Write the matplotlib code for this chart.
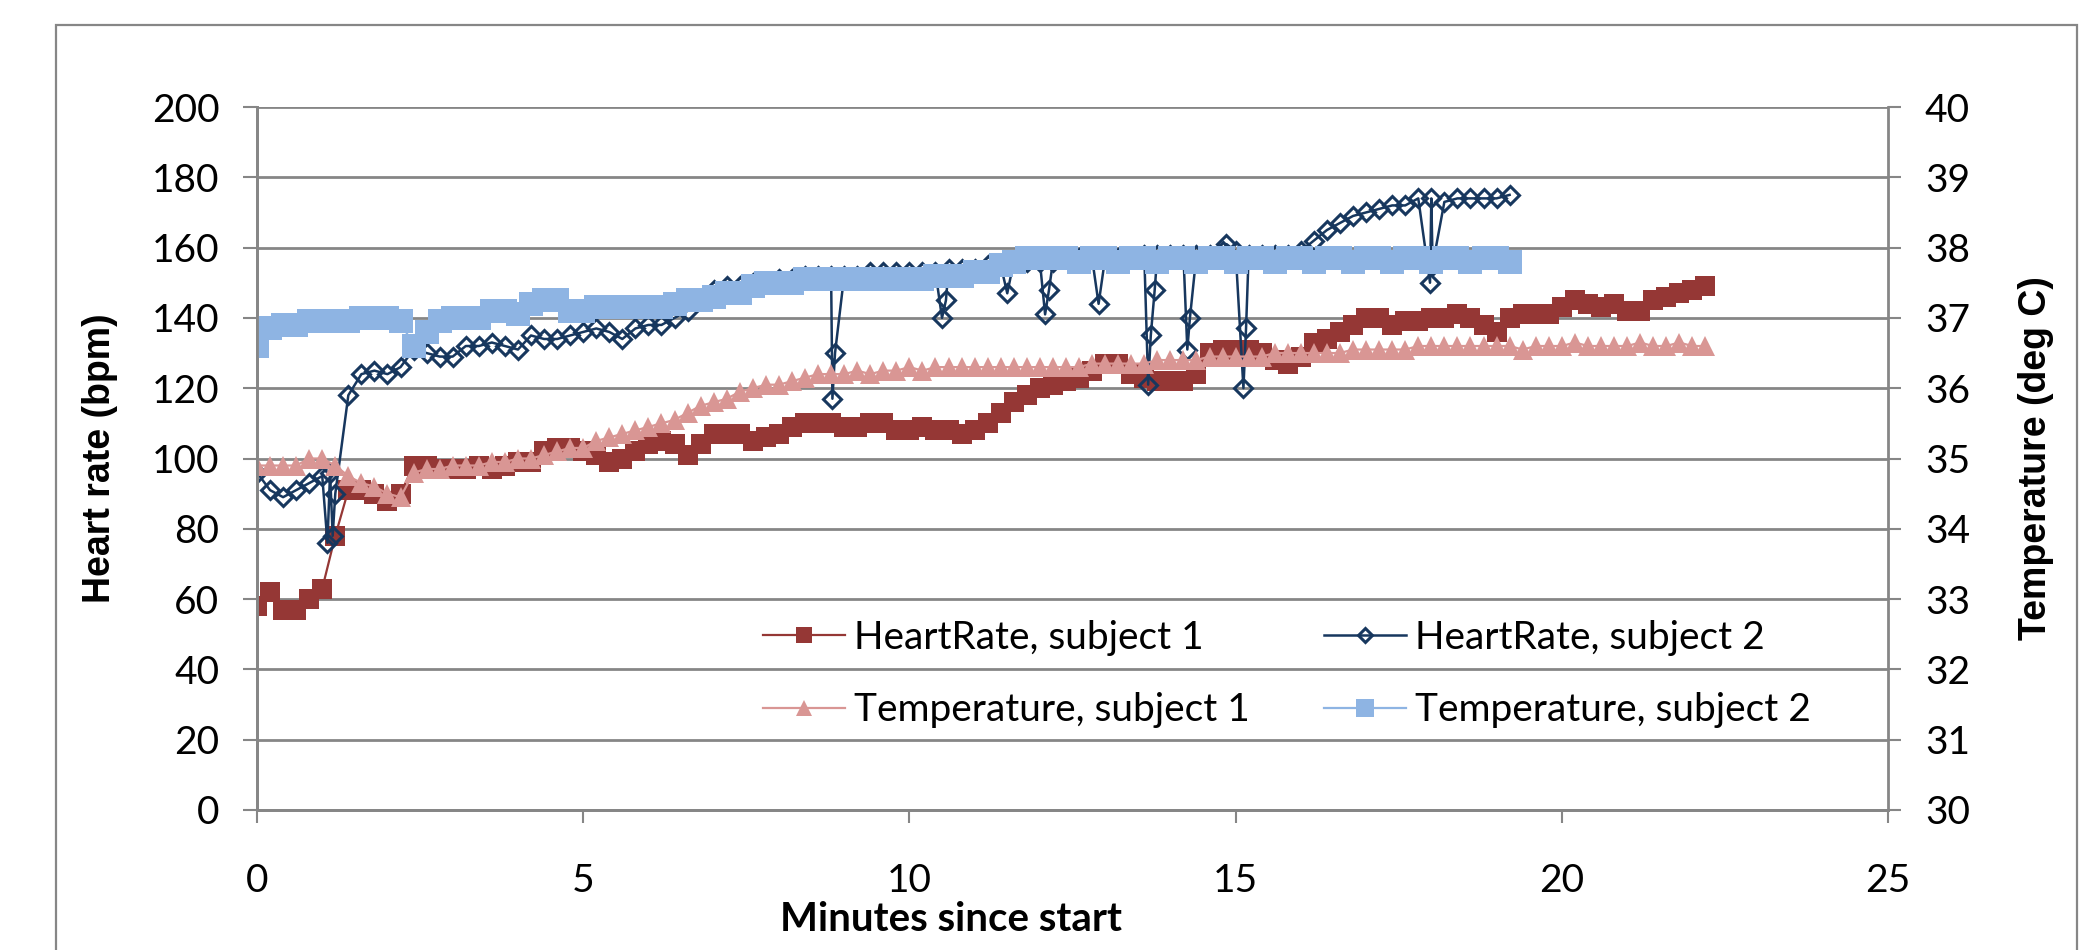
import numpy as np
import matplotlib
matplotlib.use('Agg')
import matplotlib.pyplot as plt
from matplotlib.patches import Rectangle

plt.rcParams['font.family'] = ['Lato', 'DejaVu Sans']

# data, one sample every 0.2 min
sample_step = 0.2

hr_subject1 = [58, 62, 57, 57, 60, 63, 78, 91, 91, 90,
               88, 90, 98, 98, 97, 97, 97, 98, 97, 98,
               99, 99, 102, 103, 103, 102, 101, 99, 100, 102,
               104, 105, 104, 101, 104, 107, 107, 107, 105, 106,
               107, 109, 110, 110, 110, 109, 109, 110, 110, 108,
               108, 109, 108, 108, 107, 108, 110, 113, 116, 118,
               120, 121, 122, 123, 125, 127, 127, 124, 123, 122,
               122, 122, 124, 130, 131, 131, 131, 130, 128, 127,
               129, 133, 134, 136, 138, 140, 140, 138, 139, 139,
               140, 140, 141, 140, 138, 136, 140, 141, 141, 141,
               143, 145, 144, 143, 144, 142, 142, 145, 146, 147,
               148, 149]

hr_subject2 = [96, 91, 89, 91, 93, 95, 90, 118, 124, 125,
               124, 126, 131, 130, 129, 129, 132, 132, 133, 132,
               131, 135, 134, 134, 135, 136, 137, 136, 134, 137,
               138, 138, 140, 142, 145, 148, 149, 149, 150, 150,
               151, 151, 152, 152, 152, 152, 152, 153, 153, 153,
               153, 153, 153, 154, 154, 154, 155, 155, 156, 156,
               156, 156, 157, 157, 157, 157, 157, 157, 158, 158,
               158, 158, 158, 158, 159, 159, 158, 158, 158, 158,
               159, 162, 165, 167, 169, 170, 171, 172, 172, 174,
               174, 173, 174, 174, 174, 174, 175]

# sensor dropouts of subject 2 (minute, bpm)
hr2_drop_t = [1.08, 1.12, 1.16, 8.82, 8.86, 10.5, 10.56, 11.5, 12.08, 12.14,
              12.9, 13.66, 13.7, 13.76, 14.26, 14.3, 14.86, 15.12, 15.16,
              17.98, 18.02]
hr2_drop_v = [76, 96, 78, 117, 130, 140, 145, 147, 141, 148,
              144, 121, 135, 148, 131, 140, 161, 120, 137,
              150, 155]

temp_subject1 = [34.9, 34.9, 34.9, 34.9, 35.0, 35.0, 34.9, 34.75, 34.65, 34.6,
                 34.5, 34.45, 34.8, 34.85, 34.85, 34.9, 34.9, 34.9, 34.95, 34.95,
                 35.0, 35.0, 35.05, 35.1, 35.15, 35.15, 35.25, 35.3, 35.35, 35.4,
                 35.45, 35.5, 35.55, 35.65, 35.75, 35.8, 35.85, 35.95, 36.0, 36.05,
                 36.05, 36.1, 36.15, 36.2, 36.2, 36.2, 36.25, 36.2, 36.25, 36.25,
                 36.3, 36.25, 36.3, 36.3, 36.3, 36.3, 36.3, 36.3, 36.3, 36.3,
                 36.3, 36.3, 36.3, 36.3, 36.35, 36.35, 36.35, 36.35, 36.35, 36.4,
                 36.4, 36.4, 36.4, 36.45, 36.45, 36.45, 36.45, 36.45, 36.5, 36.5,
                 36.5, 36.5, 36.5, 36.5, 36.55, 36.55, 36.55, 36.55, 36.55, 36.6,
                 36.6, 36.6, 36.6, 36.6, 36.6, 36.6, 36.6, 36.55, 36.6, 36.6,
                 36.6, 36.65, 36.6, 36.6, 36.6, 36.6, 36.65, 36.6, 36.6, 36.65,
                 36.6, 36.6]

temp_subject2 = [36.6, 36.85, 36.9, 36.9, 36.95, 36.95, 36.95, 36.95, 37.0, 37.0,
                 37.0, 36.95, 36.6, 36.8, 36.95, 37.0, 37.0, 37.0, 37.1, 37.1,
                 37.05, 37.2, 37.25, 37.25, 37.1, 37.1, 37.15, 37.15, 37.15, 37.15,
                 37.15, 37.15, 37.2, 37.25, 37.25, 37.3, 37.35, 37.35, 37.45, 37.5,
                 37.5, 37.5, 37.55, 37.55, 37.55, 37.55, 37.55, 37.55, 37.55, 37.55,
                 37.55, 37.55, 37.6, 37.6, 37.6, 37.65, 37.65, 37.75, 37.8, 37.85,
                 37.85, 37.85, 37.85, 37.8, 37.85, 37.85, 37.8, 37.85, 37.85, 37.8,
                 37.85, 37.85, 37.8, 37.85, 37.85, 37.8, 37.85, 37.85, 37.8, 37.85,
                 37.85, 37.8, 37.85, 37.85, 37.8, 37.85, 37.85, 37.8, 37.85, 37.85,
                 37.8, 37.85, 37.85, 37.8, 37.85, 37.85, 37.8]

labels = ['HeartRate, subject 1', 'HeartRate, subject 2',
          'Temperature, subject 1', 'Temperature, subject 2']
x_ticks = [0, 5, 10, 15, 20, 25]
hr_ticks = [0, 20, 40, 60, 80, 100, 120, 140, 160, 180, 200]
temp_ticks = [30, 31, 32, 33, 34, 35, 36, 37, 38, 39, 40]

# colours
c_hr1 = '#953735'
c_hr2 = '#17375E'
c_t1 = '#D99694'
c_t2 = '#8EB4E3'
grey = '#868686'


def times(values):
    return np.arange(len(values)) * sample_step


# merge dropouts into subject 2 heart rate
t2 = np.concatenate([times(hr_subject2), hr2_drop_t])
v2 = np.concatenate([hr_subject2, hr2_drop_v])
order = np.argsort(t2, kind='stable')
t2, v2 = t2[order], v2[order]

fig = plt.figure(figsize=(20.8, 9.5), dpi=100)
fig.subplots_adjust(left=257 / 2080, right=1888 / 2080,
                    top=1 - 107 / 950, bottom=1 - 810 / 950)
ax = fig.add_subplot(111)
ax2 = ax.twinx()

# outer chart frame
fig.patches.append(Rectangle((56 / 2080, -0.1), (2077 - 56) / 2080, 1.1 - 25 / 950,
                             transform=fig.transFigure, fill=False,
                             edgecolor=grey, lw=1.6))

h1, = ax.plot(times(hr_subject1), hr_subject1, color=c_hr1, lw=1.6,
              marker='s', markersize=15, markeredgewidth=0, label=labels[0])
h2, = ax.plot(t2, v2, color=c_hr2, lw=1.8, marker='D', markersize=9,
              markerfacecolor='none', markeredgecolor=c_hr2,
              markeredgewidth=2.2, label=labels[1])
h3, = ax2.plot(times(temp_subject1), temp_subject1, color=c_t1, lw=1.6,
               marker='^', markersize=15, markeredgewidth=0, label=labels[2])
h4, = ax2.plot(times(temp_subject2), temp_subject2, color=c_t2, lw=1.6,
               marker='s', markersize=17, markeredgewidth=0, label=labels[3])

ax.set_xlim(0, 25)
ax.set_ylim(0, 200)
ax2.set_ylim(30, 40)
ax.set_xticks(x_ticks)
ax.set_yticks(hr_ticks)
ax2.set_yticks(temp_ticks)

ax.yaxis.grid(True, color=grey, lw=2)
ax.set_axisbelow(True)

for a in (ax, ax2):
    for s in a.spines.values():
        s.set_color(grey)
        s.set_linewidth(2)
    a.spines['top'].set_visible(False)
ax.spines['right'].set_visible(False)

ax.tick_params(axis='x', direction='out', length=9.5, width=1.5, color=grey,
               pad=29, labelsize=28)
ax.tick_params(axis='y', direction='out', length=10, width=1.5, color=grey,
               pad=17, labelsize=28)
ax2.tick_params(axis='y', direction='out', length=9.5, width=1.5, color=grey,
                pad=17, labelsize=28)

fig.text(100 / 2080, 0.5 * (2 - 107 / 950 - 810 / 950), 'Heart rate (bpm)',
         rotation=90, ha='center', va='center', fontsize=27,
         fontweight='bold', family=['Liberation Sans', 'DejaVu Sans'])
fig.text(2036 / 2080, 0.5 * (2 - 107 / 950 - 810 / 950), 'Temperature (deg C)',
         rotation=90, ha='center', va='center', fontsize=27,
         fontweight='bold', family=['Liberation Sans', 'DejaVu Sans'])
fig.text(951 / 2080, 1 - 931 / 950, 'Minutes since start', ha='center',
         va='baseline', fontsize=29, fontweight='bold')

ax2.legend([h1, h3, h2, h4], [labels[0], labels[2], labels[1], labels[3]],
           ncol=2, loc='upper left', bbox_to_anchor=(763 / 2080, 1 - 620 / 950),
           bbox_transform=fig.transFigure, frameon=False, fontsize=28,
           handlelength=2.1, handletextpad=0.25, columnspacing=1.9,
           labelspacing=0.93, borderpad=0, borderaxespad=0, markerscale=0.8)

plt.savefig('out.png', dpi=100)
